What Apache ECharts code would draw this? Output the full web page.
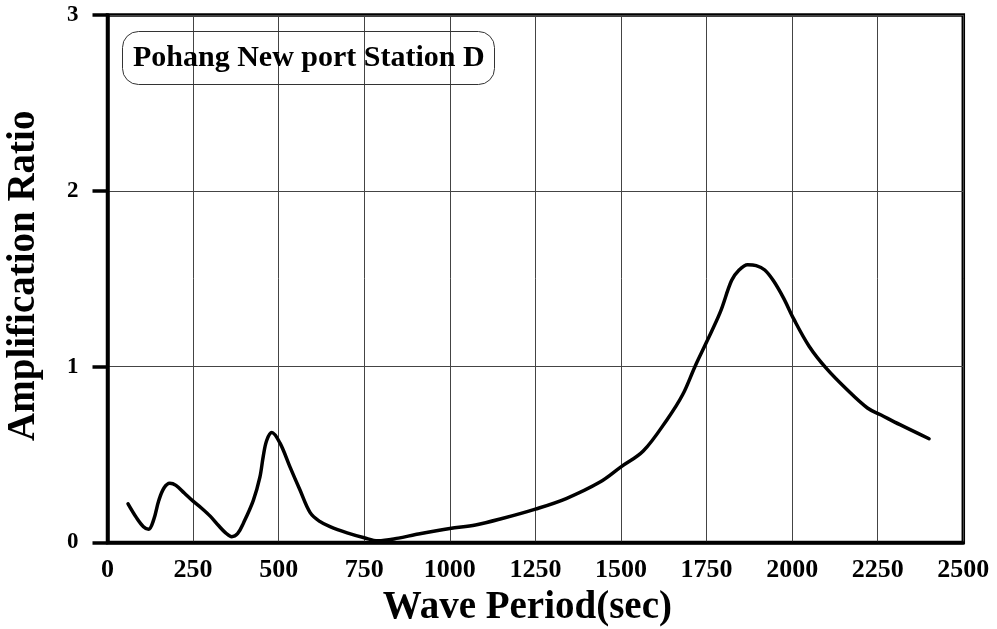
<!DOCTYPE html>
<html>
<head>
<meta charset="utf-8">
<script src="https://cdn.jsdelivr.net/npm/echarts@6/dist/echarts.min.js"></script>
<style>
  html, body { margin: 0; padding: 0; background: #fff; }
  #chart { width: 997px; height: 629px; }
</style>
</head>
<body>
<div id="chart"></div>
<script>
// Wave period (sec) and amplification ratio at Pohang New port, Station D
var periods = [60, 85, 105, 120, 135, 150, 165, 182, 200, 225, 250, 275, 300, 325, 345, 363,
  380, 397, 426, 445, 455, 465, 480, 504, 533, 562, 592, 620, 650, 700, 750, 790, 850, 900,
  1000, 1075, 1150, 1250, 1340, 1440, 1500, 1565, 1635, 1680, 1716, 1750, 1790, 1823, 1845,
  1870, 1895, 1920, 1945, 1975, 2005, 2050, 2100, 2160, 2220, 2260, 2315, 2400];
var ratios = [0.22, 0.14, 0.09, 0.075, 0.13, 0.24, 0.31, 0.337, 0.325, 0.28, 0.235, 0.195, 0.15,
  0.095, 0.055, 0.033, 0.05, 0.11, 0.24, 0.37, 0.49, 0.58, 0.625, 0.565, 0.43, 0.30, 0.17,
  0.12, 0.09, 0.055, 0.027, 0.01, 0.025, 0.045, 0.08, 0.10, 0.135, 0.19, 0.25, 0.345, 0.43,
  0.52, 0.70, 0.84, 1.0, 1.14, 1.31, 1.49, 1.55, 1.58, 1.575, 1.55, 1.49, 1.39, 1.27, 1.115,
  0.99, 0.87, 0.765, 0.725, 0.67, 0.59];

var xTicks = [0, 250, 500, 750, 1000, 1250, 1500, 1750, 2000, 2250, 2500];
var yTicks = [0, 1, 2, 3];

var stationName = 'Pohang New port Station D';
var xTitle = 'Wave Period(sec)';
var yTitle = 'Amplification Ratio';

var points = periods.map(function (p, i) { return [p, ratios[i]]; });
var serif = '"Liberation Serif", "Times New Roman", serif';

var chart = echarts.init(document.getElementById('chart'), null, { renderer: 'canvas' });
chart.setOption({
  animation: false,
  backgroundColor: '#fff',
  title: {
    text: stationName,
    left: 122,
    top: 31,
    padding: [10, 10, 10, 11],
    borderColor: '#333',
    borderWidth: 1,
    borderRadius: 16,
    textStyle: { fontFamily: serif, fontWeight: 'bold', fontSize: 30, color: '#000', lineHeight: 34 }
  },
  grid: {
    left: 107.5, right: 33.7, top: 15, bottom: 86.5,
    containLabel: false,
    outerBoundsMode: 'none',
    show: true, borderColor: '#000', borderWidth: 3.5, backgroundColor: 'transparent'
  },
  xAxis: {
    type: 'value',
    min: xTicks[0], max: xTicks[xTicks.length - 1], interval: 250,
    name: xTitle, nameLocation: 'middle', nameGap: 40,
    nameTextStyle: {
      fontFamily: serif, fontWeight: 'bold', fontSize: 39, color: '#000',
      verticalAlign: 'top', lineHeight: 39, padding: [0, 16, 0, 0]
    },
    axisLine: { show: true, lineStyle: { color: '#000', width: 3.5 } },
    axisTick: { show: false },
    axisLabel: {
      margin: 15, fontFamily: serif, fontWeight: 'bold', fontSize: 26, color: '#000',
      formatter: function (v) { return String(v); }
    },
    splitLine: { show: true, lineStyle: { color: '#444', width: 1 } }
  },
  yAxis: {
    type: 'value',
    min: yTicks[0], max: yTicks[yTicks.length - 1], interval: 1,
    name: yTitle, nameLocation: 'middle', nameGap: 64, nameRotate: 90,
    nameTextStyle: { fontFamily: serif, fontWeight: 'bold', fontSize: 39, color: '#000', padding: [0, 0, 0, 6] },
    axisLine: { show: true, lineStyle: { color: '#000', width: 3.5 } },
    axisTick: { show: true, inside: false, length: 15, lineStyle: { color: '#000', width: 3.5 } },
    axisLabel: {
      margin: 29, fontFamily: serif, fontWeight: 'bold', fontSize: 23, color: '#000',
      formatter: function (v) { return String(v); }
    },
    splitLine: { show: true, lineStyle: { color: '#444', width: 1 } }
  },
  series: [{
    type: 'line',
    data: points,
    smooth: 0.35,
    showSymbol: false,
    lineStyle: { color: '#000', width: 3.5, cap: 'round', join: 'round' }
  }]
});
</script>
</body>
</html>
